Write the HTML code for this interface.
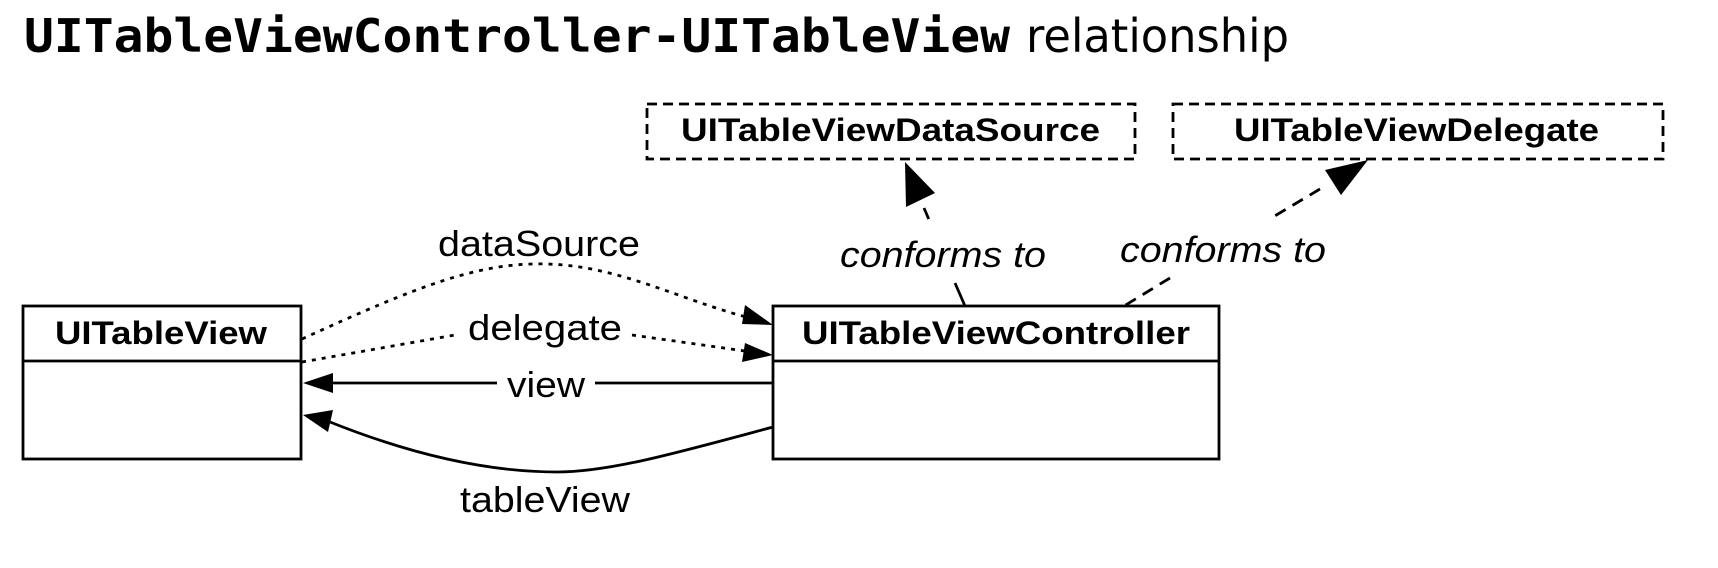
<!DOCTYPE html>
<html><head><meta charset="utf-8"><style>html,body{margin:0;padding:0;background:#fff}svg{display:block}</style></head>
<body>
<svg width="1718" height="568" viewBox="0 0 1718 568" xmlns="http://www.w3.org/2000/svg">
<rect width="1718" height="568" fill="#fff"/>
<text x="24" y="52" font-family="DejaVu Sans Mono, Liberation Mono, monospace" font-weight="bold" font-size="46" textLength="986" lengthAdjust="spacingAndGlyphs">UITableViewController-UITableView</text>
<text x="1026" y="52" font-family="DejaVu Sans, Liberation Sans, sans-serif" font-size="46" textLength="263" lengthAdjust="spacingAndGlyphs">relationship</text>

<g fill="none" stroke="#000" stroke-width="2.8">
<rect x="23" y="306" width="278" height="153"/>
<line x1="23" y1="361" x2="301" y2="361"/>
<rect x="773" y="306" width="446" height="153"/>
<line x1="773" y1="361" x2="1219" y2="361"/>
<rect x="647" y="104" width="488" height="55" stroke-dasharray="10,6"/>
<rect x="1173" y="104" width="490" height="55" stroke-dasharray="10,6"/>
</g>
<g font-family="Liberation Sans, Arial, sans-serif" font-weight="bold" font-size="32">
<text x="55" y="344" textLength="212" lengthAdjust="spacingAndGlyphs">UITableView</text>
<text x="802" y="344" textLength="388" lengthAdjust="spacingAndGlyphs">UITableViewController</text>
<text x="681" y="141" textLength="419" lengthAdjust="spacingAndGlyphs">UITableViewDataSource</text>
<text x="1234" y="141" textLength="365" lengthAdjust="spacingAndGlyphs">UITableViewDelegate</text>
</g>

<g fill="none" stroke="#000" stroke-width="2.8">
<path d="M302,339 C420,285 480,262 547,264 C620,266 680,300 750,318" stroke-dasharray="4,6"/>
<path d="M302,362 L455,335" stroke-dasharray="4,6"/>
<path d="M632,335 L752,352" stroke-dasharray="4,6"/>
<line x1="330" y1="383" x2="497" y2="383"/>
<line x1="595" y1="383" x2="773" y2="383"/>
<path d="M773,427 C680,452 610,472 557,472 C480,472 400,450 330,422"/>
<line x1="924" y1="208" x2="930" y2="222" stroke-dasharray="12,8"/>
<line x1="955" y1="283" x2="965" y2="306"/>
<line x1="1320" y1="189" x2="1273" y2="217" stroke-dasharray="12,8"/>
<line x1="1170" y1="278" x2="1124" y2="306" stroke-dasharray="12,8"/>
</g>
<g fill="#000">
<polygon points="773,325 745,305 742,324"/>
<polygon points="773,355 745,343 742,362"/>
<polygon points="303,383 333,373 333,393"/>
<polygon points="303,415 333,410 328,432"/>
<polygon points="905,162 906,207 935,193"/>
<polygon points="1368,160 1325,170 1341,195"/>
</g>
<g font-family="Liberation Sans, Arial, sans-serif" font-size="36">
<text x="438" y="256" textLength="202" lengthAdjust="spacingAndGlyphs">dataSource</text>
<text x="468" y="340" textLength="154" lengthAdjust="spacingAndGlyphs">delegate</text>
<text x="507" y="397" textLength="78" lengthAdjust="spacingAndGlyphs">view</text>
<text x="460" y="512" textLength="170" lengthAdjust="spacingAndGlyphs">tableView</text>
<text x="840" y="267" font-style="italic" textLength="206" lengthAdjust="spacingAndGlyphs">conforms to</text>
<text x="1120" y="262" font-style="italic" textLength="206" lengthAdjust="spacingAndGlyphs">conforms to</text>
</g>
</svg>
</body></html>
